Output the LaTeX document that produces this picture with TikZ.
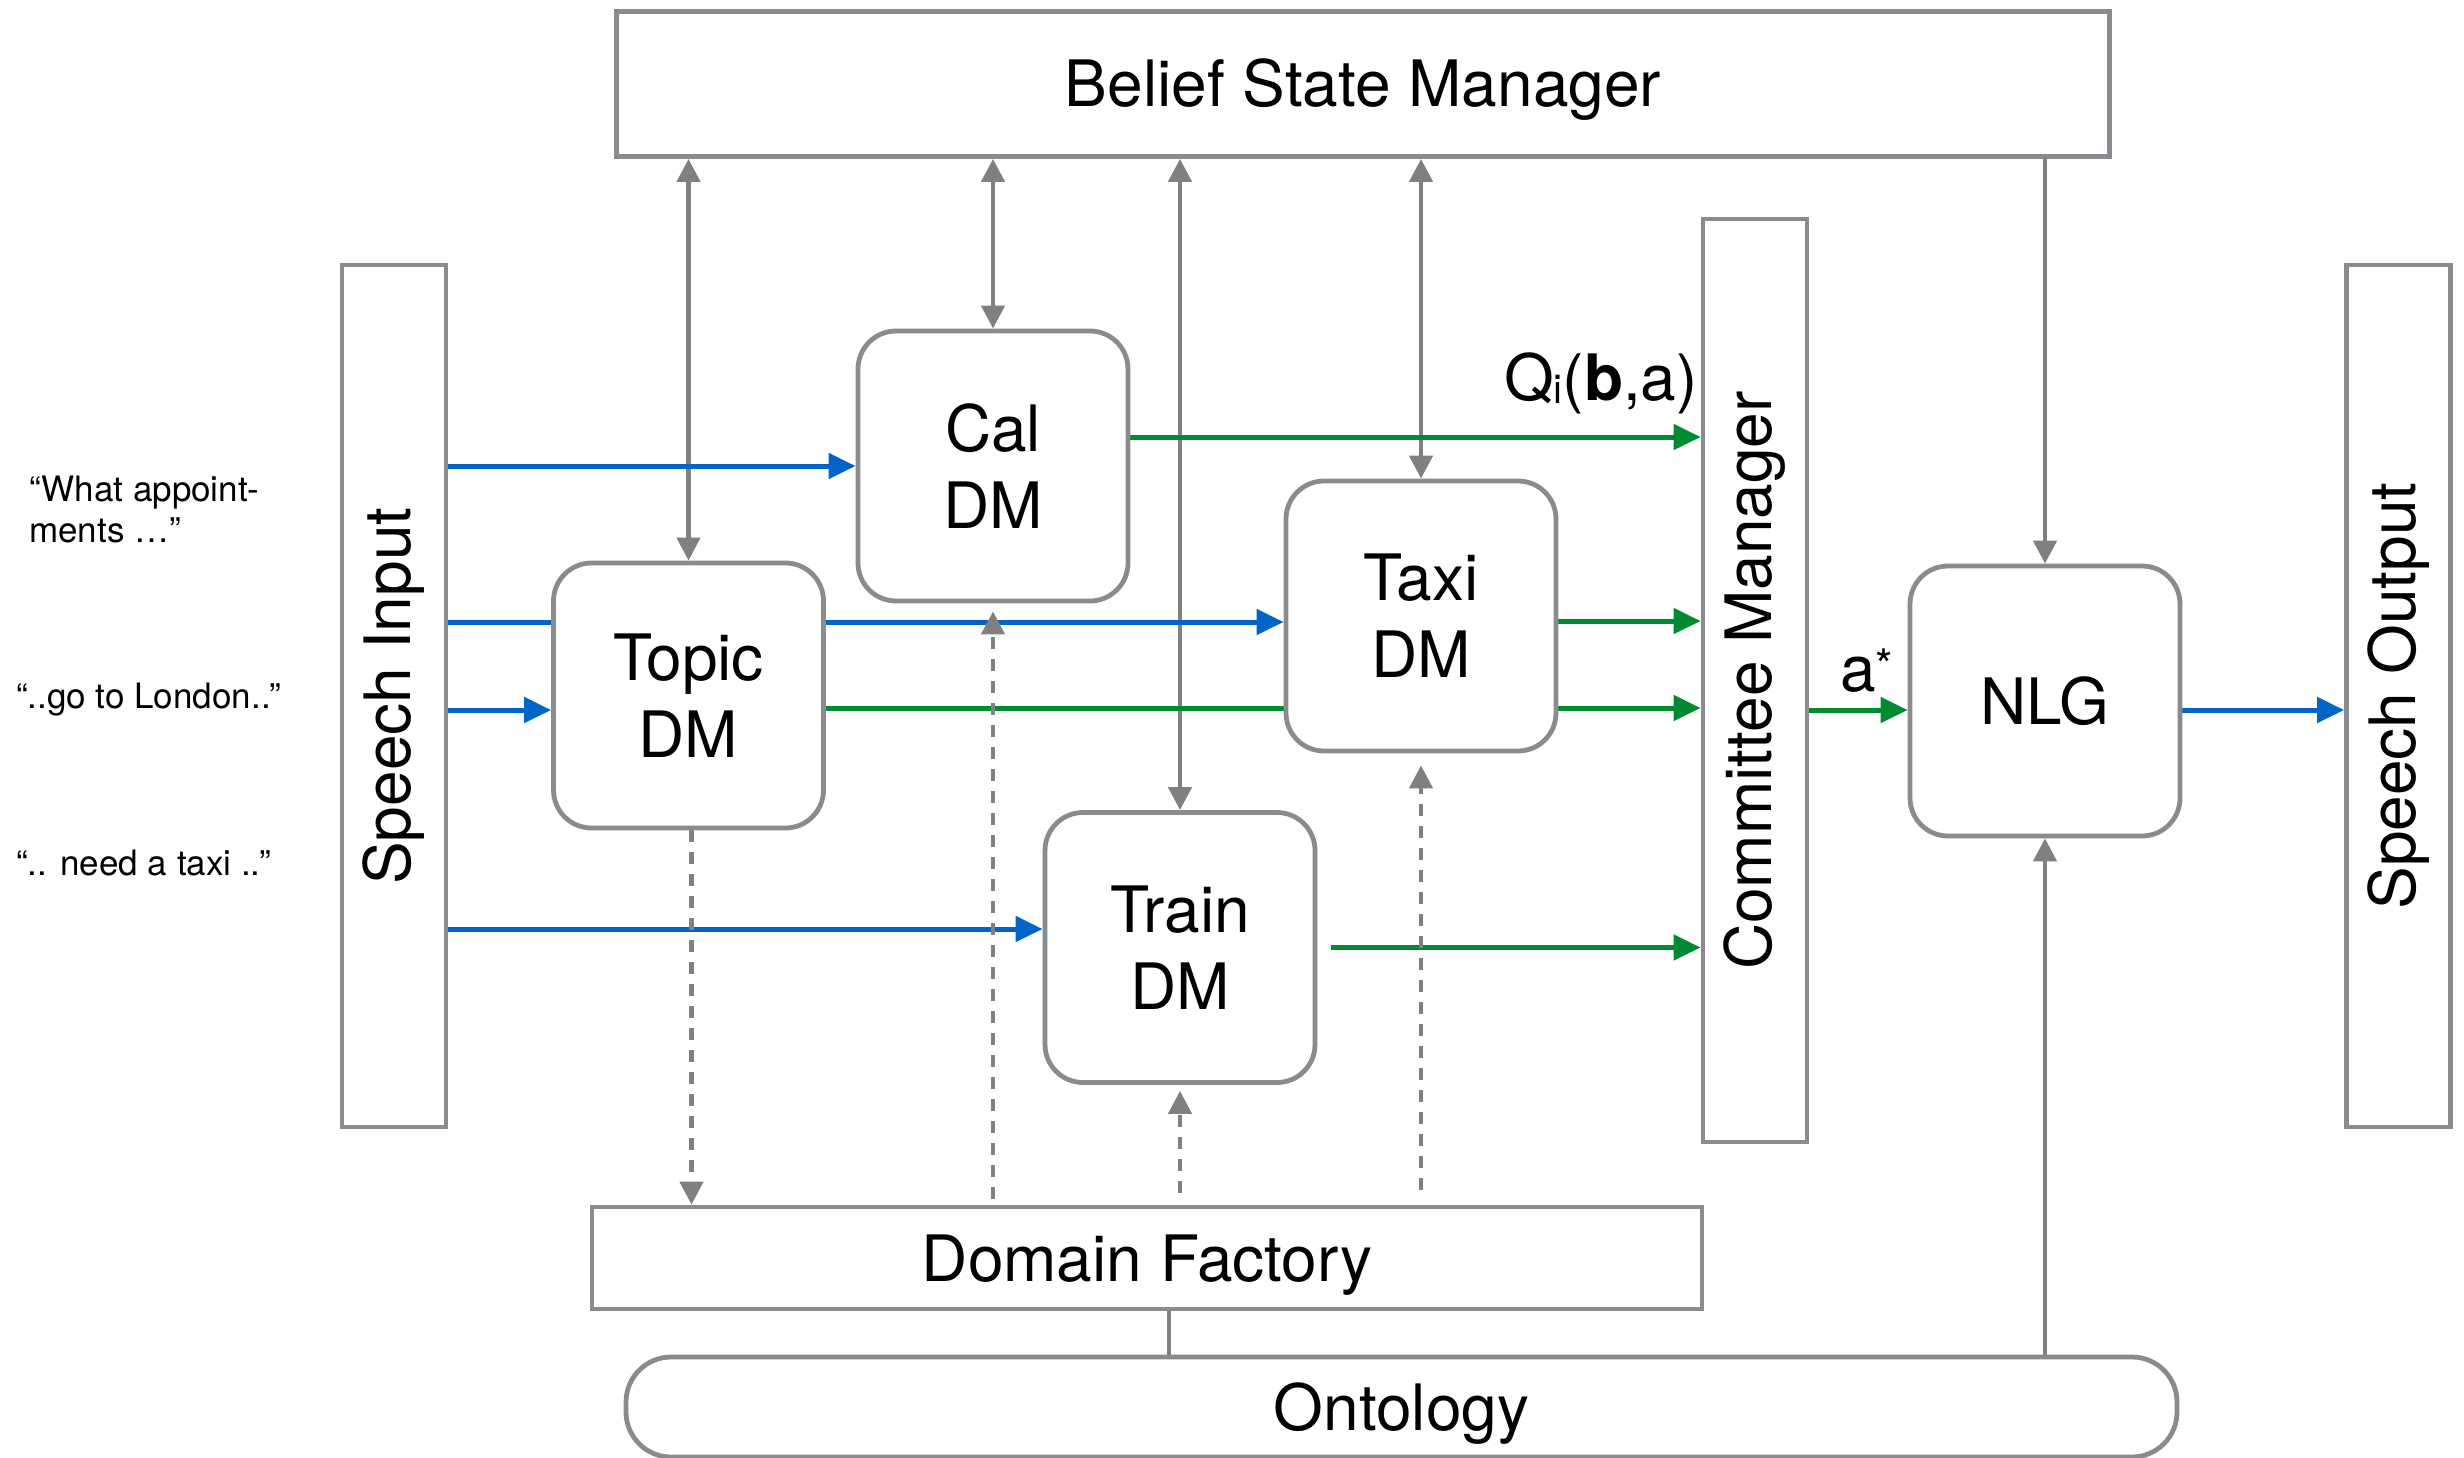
\documentclass[tikz,border=0pt]{standalone}
\usepackage{fontspec}
\setmainfont{TeX Gyre Heros}
\usetikzlibrary{arrows.meta,backgrounds}

\definecolor{boxgrey}{HTML}{898B8E}
\definecolor{argrey}{HTML}{808080}
\definecolor{flowblue}{HTML}{0064C8}
\definecolor{flowgreen}{HTML}{008A32}

\newcommand\dgmfont{\fontsize{64}{77}\selectfont}
\newcommand\dgmnote{\fontsize{35}{41}\selectfont}

\begin{document}
\begin{tikzpicture}[x=1pt,y=-1pt,
  box/.style={draw=boxgrey,line width=4.8pt,fill=white,inner sep=0pt,font=\dgmfont},
  onebox/.style={box,text height=46pt,text depth=0pt},
  dmbox/.style={box,rounded corners=38pt,minimum width=270pt,minimum height=270pt,align=center},
  vlabel/.style={rotate=90,font=\dgmfont,inner sep=0pt},
  bigtip/.tip={Triangle[length=27pt,width=25pt]},
  greytip/.tip={Triangle[length=23pt,width=23pt]},
  bflow/.style={draw=flowblue,line width=5pt,-bigtip},
  gflow/.style={draw=flowgreen,line width=5pt,-bigtip},
  gline/.style={draw=argrey,line width=4.5pt},
  gto/.style={gline,-greytip},
  gboth/.style={gline,greytip-greytip},
  gdash/.style={gline,dash pattern=on 12pt off 10pt,-greytip}
]
\useasboundingbox (0,0) rectangle (2464,1458);

% main blocks
\node[onebox,minimum width=1493pt,minimum height=145pt] (bsm) at (1363,84) {Belief State Manager};
\node[box,minimum width=104pt,minimum height=862pt,label={[vlabel]center:Speech Input}] (si) at (394,696) {};
\node[box,minimum width=104pt,minimum height=923pt,label={[vlabel]center:Committee Manager}] (cm) at (1755,680.5) {};
\node[box,minimum width=104pt,minimum height=862pt,label={[vlabel]center:Speech Output}] (so) at (2398.5,696) {};
\node[onebox,minimum width=1110pt,minimum height=102pt] (df) at (1147,1258) {Domain Factory};
\node[onebox,rounded corners=45pt,minimum width=1551pt,minimum height=100pt] (onto) at (1401.5,1407) {Ontology};

% dialogue managers
\node[dmbox] (cal) at (993,466) {Cal\\DM};
\node[dmbox,minimum height=265pt] (topic) at (688.5,695.5) {Topic\\DM};
\node[dmbox] (taxi) at (1421,616) {Taxi\\DM};
\node[dmbox] (train) at (1180,947.5) {Train\\DM};
\node[dmbox,text height=46pt,text depth=0pt] (nlg) at (2045,701) {NLG};

% levels of the horizontal flows
\coordinate (yTaxi) at (0,622);
\coordinate (yTopicIn) at (0,710);
\coordinate (yTrainIn) at (0,929);
\coordinate (yCalOut) at (0,437);
\coordinate (yTaxiOut) at (0,621);
\coordinate (yTopicOut) at (0,708);
\coordinate (yAct) at (0,710);
\coordinate (xOnto) at (1169,0);

\begin{scope}[on background layer]
  % belief state links
  \draw[gboth] (bsm.south -| topic.north) -- (topic.north);
  \draw[gboth] (bsm.south -| cal.north) -- (cal.north);
  \draw[gboth] (bsm.south -| train.north) -- (train.north);
  \draw[gboth] (bsm.south -| taxi.north) -- (taxi.north);
  \draw[gto] (bsm.south -| nlg.north) -- (nlg.north);

  % speech input to the domain managers
  \draw[bflow] (si.east |- cal.west) -- (cal.west);
  \draw[bflow] (si.east |- yTaxi) -- (taxi.west |- yTaxi);
  \draw[bflow] (si.east |- yTopicIn) -- (topic.west |- yTopicIn);
  \draw[bflow] (si.east |- yTrainIn) -- (train.west |- yTrainIn);

  % Q values to the committee
  \draw[gflow] (cal.east |- yCalOut) -- (cm.west |- yCalOut);
  \draw[gflow] (taxi.east |- yTaxiOut) -- (cm.west |- yTaxiOut);
  \draw[gflow] (topic.east |- yTopicOut) -- (cm.west |- yTopicOut);
  \draw[gflow,shorten <=14pt] (train.east) -- (train.east -| cm.west);

  % committee decision and output
  \draw[gflow] (cm.east |- yAct) -- (nlg.west |- yAct);
  \draw[bflow] (nlg.east |- yAct) -- (so.west |- yAct);

  % domain factory
  \draw[gdash] ([xshift=3pt]topic.south) -- ([xshift=3pt]topic.south |- df.north);
  \draw[gdash,shorten <=6pt,shorten >=8pt] (df.north -| cal.south) -- (cal.south);
  \draw[gdash,shorten <=12pt,shorten >=6pt] (df.north -| train.south) -- (train.south);
  \draw[gdash,shorten <=15pt,shorten >=12pt] (df.north -| taxi.south) -- (taxi.south);

  % ontology
  \draw[gline] (df.south -| xOnto) -- (onto.north -| xOnto);
  \draw[gto] (onto.north -| nlg.south) -- (nlg.south);
\end{scope}

% flow labels
\node[anchor=base east,font=\dgmfont,inner sep=0pt] (qlabel) at (1698,400) {Q\raisebox{-3pt}{\fontsize{40}{40}\selectfont i}(\textbf{b},a)};
\node[anchor=base west,font=\dgmfont,inner sep=0pt] (alabel) at (1840,691) {a\textsuperscript{*}};

% example utterances
\node[anchor=north west,font=\dgmnote,align=left,inner sep=0pt] (utt1) at (29,476) {“What appoint-\\ments …”};
\node[anchor=base west,font=\dgmnote,inner sep=0pt] (utt2) at (16,708) {“..go to London..”};
\node[anchor=base west,font=\dgmnote,inner sep=0pt] (utt3) at (16,875) {“.. need a taxi ..”};
\end{tikzpicture}
\end{document}
